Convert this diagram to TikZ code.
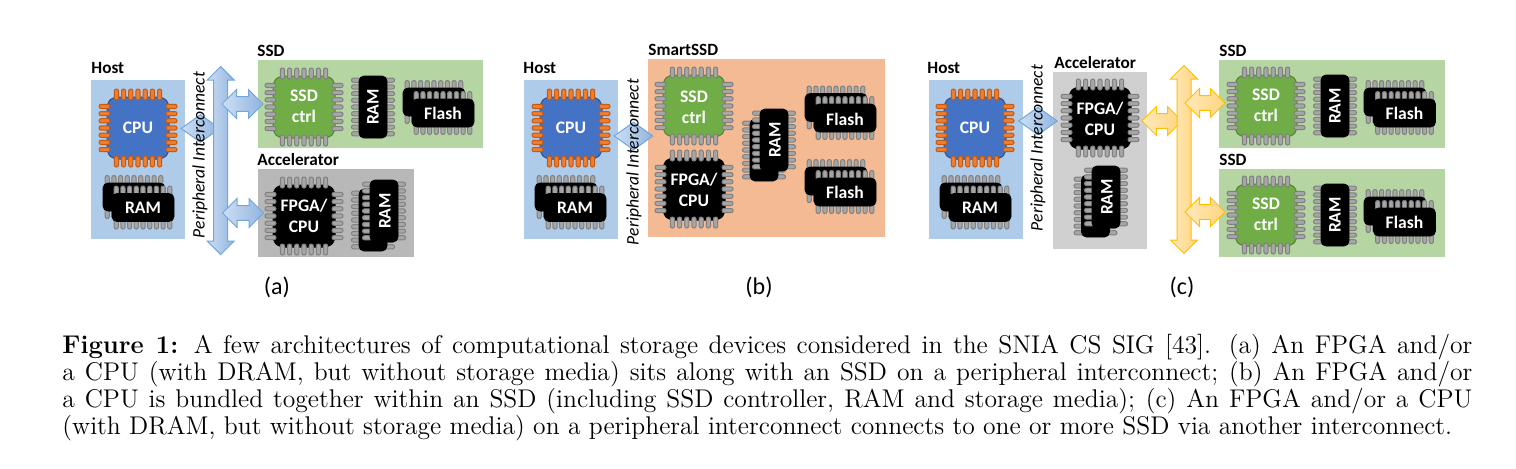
\documentclass[tikz,border=0pt]{standalone}
\usepackage{fontspec}
\newfontfamily\carlito{Carlito}
\usepackage{tikz}
\usetikzlibrary{shapes.arrows,shapes.geometric}
\definecolor{hostblue}{RGB}{174,203,234}
\definecolor{ssdgreen}{RGB}{181,213,163}
\definecolor{accgrey}{RGB}{184,184,184}
\definecolor{acclight}{RGB}{208,208,208}
\definecolor{smartorange}{RGB}{244,186,148}
\definecolor{cpublue}{RGB}{68,114,196}
\definecolor{ctrlgreen}{RGB}{112,173,71}
\definecolor{linklight}{RGB}{205,222,243}
\definecolor{linkdark}{RGB}{146,180,224}
\definecolor{linkedge}{RGB}{112,166,220}
\definecolor{yellight}{RGB}{255,233,186}
\definecolor{yeldark}{RGB}{255,212,128}
\definecolor{yeledge}{RGB}{255,192,0}
\definecolor{legorange}{RGB}{237,125,49}
\definecolor{legedge}{RGB}{197,90,17}
\tikzset{
  x=0.5pt,y=-0.5pt,
  panel/.style={draw=none,fill=#1},
  title/.style={font=\carlito\bfseries\fontsize{8.6}{10}\selectfont,anchor=base west,inner sep=0pt},
  chiptext/.style={font=\carlito\bfseries\fontsize{8.8}{10.6}\selectfont,text=white,align=center,inner sep=0pt},
  sublabel/.style={font=\carlito\fontsize{12}{14}\selectfont,inner sep=0pt},
  buslabel/.style={font=\carlito\itshape\fontsize{8.8}{10}\selectfont,rotate=90,inner sep=0pt},
  cpubody/.style={fill=cpublue,draw=cpublue!70!black,rounded corners=2.5pt,line width=0.5pt},
  ctrlbody/.style={fill=ctrlgreen,draw=ctrlgreen!75!black,rounded corners=2.5pt,line width=0.5pt},
  blackbody/.style={fill=black,draw=black,rounded corners=2.5pt,line width=0.5pt},
  orangeleg/.style={fill=legorange,draw=legedge,line width=0.5pt,rounded corners=1pt},
  greyleg/.style={fill=black!35,draw=black!50,line width=0.5pt,rounded corners=1pt},
  bluelink/.style={left color=linklight,right color=linkdark,draw=linkedge,line width=0.5pt},
  yellowlink/.style={left color=yellight,right color=yeldark,draw=yeledge,line width=0.5pt},
  hub/.style={diamond,aspect=1.39,inner sep=0pt,minimum width=19.5pt,minimum height=14pt},
  bus/.style={double arrow,shape border rotate=90,inner ysep=0pt,inner xsep=3.25pt,minimum height=94pt,double arrow head extend=3.25pt},
  stub/.style={double arrow,inner xsep=0pt,inner ysep=3.4pt,minimum height=20.5pt,double arrow head extend=3.6pt},
}
% square chip with legs on four sides
\newcommand{\chip}[3]{
  \begin{scope}[shift={(#1)}]
    \draw[#2] (-31,-25) -- (-25,-31) -- (25,-31) -- (31,-25) -- (31,25) -- (25,31) -- (-25,31) -- (-31,25) -- cycle;
    \foreach \k in {-3,...,3} {
      \draw[#3] ({\k*7.2-2.1},-39) rectangle ({\k*7.2+2.1},-28);
      \draw[#3] ({\k*7.2-2.1},39) rectangle ({\k*7.2+2.1},28);
      \draw[#3] (-39,{\k*7.2-2.1}) rectangle (-28,{\k*7.2+2.1});
      \draw[#3] (39,{\k*7.2-2.1}) rectangle (28,{\k*7.2+2.1});
    }
  \end{scope}
}
% memory chip, legs on the long sides
\newcommand{\memchip}[2]{
  \begin{scope}[shift={(#1)},rotate=#2]
    \foreach \k in {-4,...,4} {
      \draw[greyleg] ({\k*6.7-2.1},-21.5) rectangle ({\k*6.7+2.1},-12);
      \draw[greyleg] ({\k*6.7-2.1},21.5) rectangle ({\k*6.7+2.1},12);
    }
    \draw[fill=black,draw=black,rounded corners=2.5pt] (-31,-14) rectangle (31,14);
  \end{scope}
}
\begin{document}
\begin{tikzpicture}
\useasboundingbox (0,0) rectangle (1516,468);
%%% (a)
\fill[panel=hostblue] (91,80) rectangle (185,239);
\fill[panel=ssdgreen] (258,60) rectangle (483,148);
\fill[panel=accgrey] (258,169) rectangle (414,257);
\node[title] (aHostTitle) at (91,73) {Host};
\node[title] (aSsdTitle) at (257,56) {SSD};
\node[title] (aAccTitle) at (257,165) {Accelerator};
\node[hub,bluelink] (aHub) at (200.5,128.5) {};
\node[bus,bluelink] (aBus) at (220.7,160.5) {};
\node[stub,bluelink] (aStubSsd) at (242.5,104) {};
\node[stub,bluelink] (aStubAcc) at (243,213) {};
\chip{138,128}{cpubody}{orangeleg}
\node[chiptext] (aCpu) at (138,128) {CPU};
\memchip{134,197}{0}
\memchip{143,207.5}{0}
\node[chiptext] (aRam) at (143,208) {RAM};
\chip{304,107}{ctrlbody}{greyleg}
\node[chiptext] (aCtrl) at (304,106.5) {SSD\\ctrl};
\memchip{373,107}{90}
\node[chiptext,rotate=90] (aSsdRam) at (373,107) {RAM};
\memchip{434,102}{0}
\memchip{443,113}{0}
\node[chiptext] (aFlash) at (443,113) {Flash};
\chip{304,216}{blackbody}{greyleg}
\node[chiptext] (aFpga) at (304,216) {FPGA/\\CPU};
\memchip{373,220}{90}
\memchip{384,211}{90}
\node[chiptext,rotate=90] (aAccRam) at (385,211) {RAM};
\node[buslabel] (aBusLabel) at (200,155) {Peripheral Interconnect};
\node[sublabel] (aSub) at (277,287) {(a)};
%%% (b)
\fill[panel=hostblue] (524,80) rectangle (618,239);
\fill[panel=smartorange] (648,59) rectangle (885,237);
\node[title] (bHostTitle) at (523,73) {Host};
\node[title] (bSmartTitle) at (648,55) {SmartSSD};
\node[hub,bluelink] (bHub) at (633.5,136) {};
\chip{571,128}{cpubody}{orangeleg}
\node[chiptext] (bCpu) at (571,128) {CPU};
\memchip{566,197}{0}
\memchip{575,207.5}{0}
\node[chiptext] (bRam) at (575,208) {RAM};
\chip{694,106}{ctrlbody}{greyleg}
\node[chiptext] (bCtrl) at (694,107) {SSD\\ctrl};
\chip{694,189}{blackbody}{greyleg}
\node[chiptext] (bFpga) at (694,190) {FPGA/\\CPU};
\memchip{764,150}{90}
\memchip{774,140}{90}
\node[chiptext,rotate=90] (bSmartRam) at (775,140) {RAM};
\memchip{836,107.5}{0}
\memchip{845,118}{0}
\node[chiptext] (bFlashA) at (845,119) {Flash};
\memchip{836,181}{0}
\memchip{845,192}{0}
\node[chiptext] (bFlashB) at (845,192) {Flash};
\node[buslabel] (bBusLabel) at (634,162) {Peripheral Interconnect};
\node[sublabel] (bSub) at (759,287) {(b)};
%%% (c)
\fill[panel=hostblue] (929,80) rectangle (1023,239);
\fill[panel=acclight] (1053,72) rectangle (1147,249);
\fill[panel=ssdgreen] (1219,60) rectangle (1445,148);
\fill[panel=ssdgreen] (1219,169) rectangle (1445,257);
\node[title] (cHostTitle) at (927,73) {Host};
\node[title] (cAccTitle) at (1054,68) {Accelerator};
\node[title] (cSsdTitleA) at (1219,56) {SSD};
\node[title] (cSsdTitleB) at (1219,165) {SSD};
\node[hub,bluelink] (cHub) at (1038,121) {};
\node[stub,yellowlink,minimum height=20pt] (cStubAcc) at (1162,121) {};
\node[bus,yellowlink] (cBus) at (1184,159.5) {};
\node[stub,yellowlink,minimum height=20pt] (cStubA) at (1205,103) {};
\node[stub,yellowlink,minimum height=20pt] (cStubB) at (1205,212) {};
\chip{975,128}{cpubody}{orangeleg}
\node[chiptext] (cCpu) at (975,128) {CPU};
\memchip{971,197}{0}
\memchip{980,207.5}{0}
\node[chiptext] (cRam) at (980,208) {RAM};
\chip{1100,118}{blackbody}{greyleg}
\node[chiptext] (cFpga) at (1100,118.5) {FPGA/\\CPU};
\memchip{1095.5,206}{90}
\memchip{1106,197}{90}
\node[chiptext,rotate=90] (cAccRam) at (1107,197) {RAM};
\chip{1266,106}{ctrlbody}{greyleg}
\node[chiptext] (cCtrlA) at (1266,105.5) {SSD\\ctrl};
\memchip{1335,106}{90}
\node[chiptext,rotate=90] (cRamA) at (1335,106) {RAM};
\memchip{1395,102}{0}
\memchip{1404.5,113}{0}
\node[chiptext] (cFlashA) at (1404.5,113) {Flash};
\chip{1266,215}{ctrlbody}{greyleg}
\node[chiptext] (cCtrlB) at (1266,214.5) {SSD\\ctrl};
\memchip{1335,215}{90}
\node[chiptext,rotate=90] (cRamB) at (1335,215) {RAM};
\memchip{1395,211}{0}
\memchip{1404.5,222}{0}
\node[chiptext] (cFlashB) at (1404.5,222) {Flash};
\node[buslabel] (cBusLabel) at (1038,148) {Peripheral Interconnect};
\node[sublabel] (cSub) at (1182,287) {(c)};
%%% caption
\node[anchor=north west,inner sep=0pt,text width=705pt,align=justify,font=\fontsize{12.8}{13.5}\selectfont] (caption) at (62,334) {%
\textbf{Figure 1:} A few architectures of computational storage devices considered in the SNIA CS SIG [43]. (a) An FPGA and/or\linebreak
a CPU (with DRAM, but without storage media) sits along with an SSD on a peripheral interconnect; (b) An FPGA and/or\linebreak
a CPU is bundled together within an SSD (including SSD controller, RAM and storage media); (c) An FPGA and/or a CPU\linebreak
(with DRAM, but without storage media) on a peripheral interconnect connects to one or more SSD via another interconnect.};
\end{tikzpicture}
\end{document}
